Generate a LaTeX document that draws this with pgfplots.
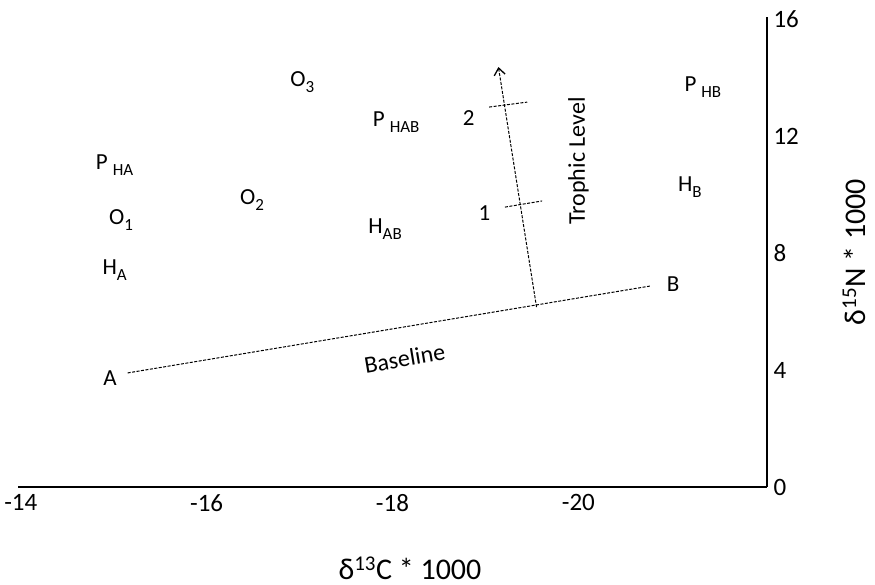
\documentclass[border=0pt]{standalone}
\usepackage{pgfplots}
\pgfplotsset{compat=1.18}
\usepackage{fontspec}
\setmainfont{Carlito}
\usetikzlibrary{arrows.meta}
\newcommand{\fs}[1]{\fontsize{#1}{#1}\selectfont}
\newcommand{\hs}[1]{\hspace{5pt}\raisebox{-6pt}{\fs{17}#1}}
\newcommand{\ls}[1]{\raisebox{-6pt}{\fs{17}#1}}
\begin{document}
\begin{tikzpicture}
\begin{axis}[
  at={(0pt,0pt)}, anchor=south west,
  scale only axis, width=749pt, height=470pt,
  x dir=reverse, xmin=-22.03, xmax=-13.97, ymin=0, ymax=16.07,
  axis x line*=bottom, axis y line*=right,
  axis line style={line width=2.5pt, black},
  xtick={-14,-16,-18,-20}, ytick={0,4,8,12,16},
  major tick length=0pt,
  tick label style={font=\fs{25}},
  /pgf/number format/assume math mode=true,
  xticklabel style={yshift=-4pt},
  yticklabel style={xshift=3pt},
  xlabel={δ\textsuperscript{13}C * 1000},
  ylabel={δ\textsuperscript{15}N * 1000},
  every axis x label/.style={at={(axis cs:-18,0)}, anchor=center, xshift=17.5pt, yshift=-81pt, font=\fs{30}},
  every axis y label/.style={at={(axis cs:-22.03,8.035)}, anchor=center, rotate=90, yshift=-87pt, font=\fs{30}},
  clip=false,
]
% baseline
\addplot[black, line width=1pt, dash pattern=on 3pt off 1.5pt] coordinates {(-15.15,3.90) (-20.77,6.87)};
% trophic level arrow
\addplot[black, line width=1pt, dash pattern=on 3pt off 1.5pt, -{Straight Barb[length=7pt,width=11pt,line width=1.3pt]}] coordinates {(-19.55,6.15) (-19.14,14.36)};
\addplot[black, line width=1pt, dash pattern=on 3pt off 1.5pt] coordinates {(-19.04,12.99) (-19.45,13.16)};
\addplot[black, line width=1pt, dash pattern=on 3pt off 1.5pt] coordinates {(-19.21,9.57) (-19.61,9.78)};
% labelled groups
\addplot[draw=none, mark=none, nodes near coords, point meta=explicit symbolic,
  every node near coord/.style={font=\fs{23}, inner sep=0pt, anchor=center, black}]
  coordinates {
  (-15.01,11.01) [P\hs{HA}]
  (-15.08,9.13) [O\ls{1}]
  (-15.01,7.42) [H\ls{A}]
  (-14.96,3.73) [A]
  (-16.49,9.81) [O\ls{2}]
  (-17.03,13.85) [O\ls{3}]
  (-18.04,12.48) [P\hs{HAB}]
  (-17.92,8.82) [H\ls{AB}]
  (-21.34,13.68) [P\hs{HB}]
  (-21.20,10.26) [H\ls{B}]
  (-21.02,6.94) [B]
  (-18.82,12.62) [2]
  (-18.99,9.37) [1]
  };
\node[font=\fs{24}, rotate=90, anchor=center, inner sep=0pt] at (axis cs:-20.00,11.15) {Trophic Level};
\node[font=\fs{24}, rotate=9.5, anchor=center, inner sep=0pt] at (axis cs:-18.13,4.40) {Baseline};
\end{axis}
\pgfresetboundingbox
\path[use as bounding box] (-18pt,-98pt) rectangle (857pt,487pt);
\end{tikzpicture}
\end{document}
